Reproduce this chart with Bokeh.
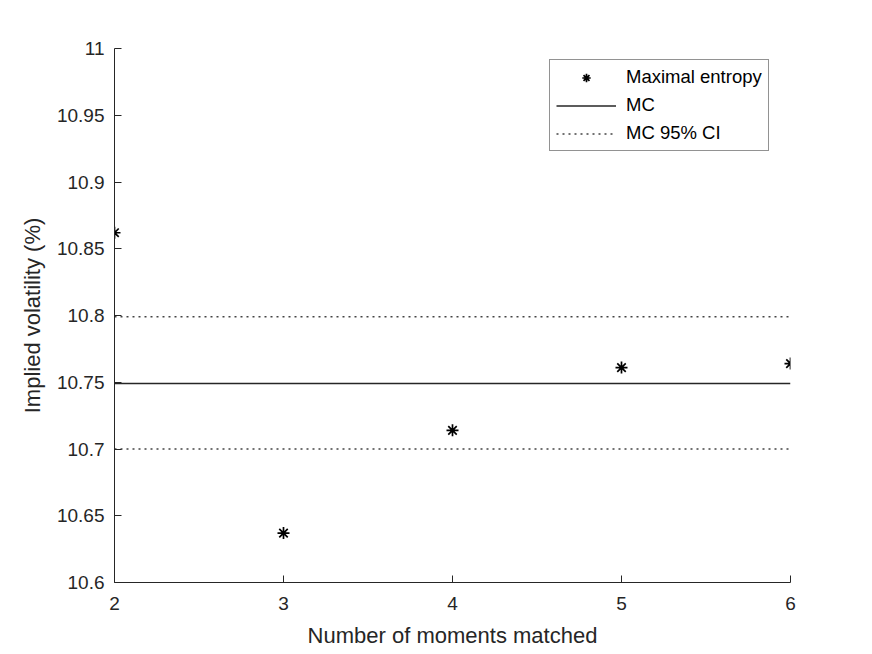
from bokeh.plotting import figure
from bokeh.embed import file_html
from bokeh.resources import INLINE
from bokeh.models import Legend, LegendItem, FixedTicker, Range1d

moments = [2, 3, 4, 5, 6]
max_entropy = [10.862, 10.637, 10.714, 10.761, 10.764]
mc_x = [2, 6]
mc_value = [10.749, 10.749]
ci_upper = [10.799, 10.799]
ci_lower = [10.700, 10.700]
y_ticks = [10.6, 10.65, 10.7, 10.75, 10.8, 10.85, 10.9, 10.95, 11.0]
y_tick_labels = ["10.6", "10.65", "10.7", "10.75", "10.8", "10.85", "10.9", "10.95", "11"]
x_ticks = [2, 3, 4, 5, 6]

FONT = "Liberation Sans"
AX = "#262626"

p = figure(width=864, height=654, output_backend="svg", toolbar_location=None,
           x_range=Range1d(2, 6), y_range=Range1d(10.6, 11.0),
           min_border_left=114, min_border_right=74, min_border_top=48, min_border_bottom=72)
p.outline_line_color = None
p.xgrid.visible = False
p.ygrid.visible = False

r_me = p.scatter(moments, max_entropy, marker="asterisk", size=12, line_color="black", line_width=1.7)
r_mc = p.line(mc_x, mc_value, line_color=AX, line_width=1.5)
r_ci1 = p.line(mc_x, ci_upper, line_color="#444444", line_width=1.5, line_dash="2 4")
r_ci2 = p.line(mc_x, ci_lower, line_color="#444444", line_width=1.5, line_dash="2 4")

for ax in (p.xaxis[0], p.yaxis[0]):
    ax.axis_line_color = AX
    ax.major_tick_line_color = AX
    ax.minor_tick_line_color = None
    ax.major_tick_in = 7
    ax.major_tick_out = 0
    ax.major_label_text_font = FONT
    ax.major_label_text_font_size = "19px"
    ax.major_label_text_color = AX
    ax.axis_label_text_font = FONT
    ax.axis_label_text_font_size = "22px"
    ax.axis_label_text_font_style = "normal"
    ax.axis_label_text_color = AX

p.xaxis.ticker = FixedTicker(ticks=x_ticks)
p.yaxis.ticker = FixedTicker(ticks=y_ticks)
p.yaxis.major_label_overrides = {t: l for t, l in zip(y_ticks, y_tick_labels)}
p.xaxis.axis_label = "Number of moments matched"
p.yaxis.axis_label = "Implied volatility (%)"
p.xaxis.major_label_standoff = 14
p.yaxis.major_label_standoff = 10
p.xaxis.axis_label_standoff = 10
p.yaxis.axis_label_standoff = 9

legend = Legend(items=[
    LegendItem(label="Maximal entropy", renderers=[r_me]),
    LegendItem(label="MC", renderers=[r_mc]),
    LegendItem(label="MC 95% CI", renderers=[r_ci1]),
], location=(435, 431))
legend.border_line_color = AX
legend.border_line_width = 1
legend.background_fill_alpha = 1
legend.label_text_font = FONT
legend.label_text_font_size = "18.5px"
legend.label_text_color = "black"
legend.glyph_width = 60
legend.glyph_height = 21
legend.label_height = 21
legend.spacing = 6
legend.padding = 6
legend.margin = 0
legend.label_standoff = 10
p.add_layout(legend, "center")

open("out.html", "w").write(file_html(p, INLINE))
